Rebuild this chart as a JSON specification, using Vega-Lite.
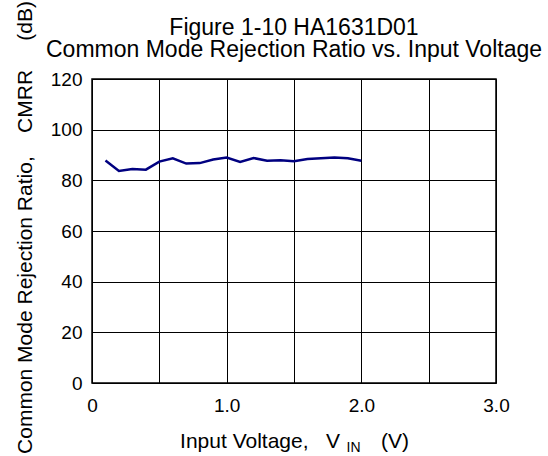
{
  "$schema": "https://vega.github.io/schema/vega-lite/v6.json",
  "width": 404,
  "height": 304,
  "autosize": {"type": "none"},
  "padding": {"left": 92, "top": 79, "right": 52, "bottom": 73},
  "background": "white",
  "config": {
    "font": "Liberation Sans",
    "view": {"stroke": "black", "strokeWidth": 1.5}
  },
  "title": {
    "text": ["Figure 1-10 HA1631D01", "Common Mode Rejection Ratio vs. Input Voltage"],
    "fontSize": 23,
    "fontWeight": "normal",
    "color": "black",
    "lineHeight": 21.3,
    "anchor": "middle",
    "frame": "group",
    "offset": 0,
    "dy": 61
  },
  "data": {
    "values": [
      {"v": 0.1, "cmrr": 87.8},
      {"v": 0.2, "cmrr": 83.7},
      {"v": 0.3, "cmrr": 84.5},
      {"v": 0.4, "cmrr": 84.2},
      {"v": 0.5, "cmrr": 87.4},
      {"v": 0.6, "cmrr": 88.7},
      {"v": 0.7, "cmrr": 86.6},
      {"v": 0.8, "cmrr": 86.8},
      {"v": 0.9, "cmrr": 88.2},
      {"v": 1.0, "cmrr": 89.0},
      {"v": 1.1, "cmrr": 87.3},
      {"v": 1.2, "cmrr": 88.8},
      {"v": 1.3, "cmrr": 87.7},
      {"v": 1.4, "cmrr": 87.9},
      {"v": 1.5, "cmrr": 87.5},
      {"v": 1.6, "cmrr": 88.4},
      {"v": 1.7, "cmrr": 88.7},
      {"v": 1.8, "cmrr": 89.0},
      {"v": 1.9, "cmrr": 88.7},
      {"v": 2.0, "cmrr": 87.7}
    ]
  },
  "layer": [
    {
      "mark": {"type": "line", "color": "#000080", "strokeWidth": 2.5},
      "encoding": {
        "x": {
          "field": "v",
          "type": "quantitative",
          "scale": {"domain": [0, 3], "nice": false},
          "axis": {
            "orient": "bottom",
            "values": [0, 0.5, 1, 1.5, 2, 2.5, 3],
            "labelExpr": "datum.value == 0 ? '0' : (datum.value % 1 == 0 ? format(datum.value, '.1f') : '')",
            "labelFontSize": 19,
            "labelColor": "black",
            "labelPadding": 13,
            "labelFlush": false,
            "ticks": false,
            "tickSize": 0,
            "domain": false,
            "grid": true,
            "gridColor": "black",
            "gridOpacity": 1,
            "gridWidth": 1,
            "title": "Input Voltage,\u00a0\u00a0\u00a0V\u00a0\u00a0\u00a0\u00a0\u00a0\u00a0\u00a0(V)",
            "titleFontSize": 21,
            "titleFontWeight": "normal",
            "titleColor": "black",
            "titleBaseline": "alphabetic",
            "titleY": 64
          }
        },
        "y": {
          "field": "cmrr",
          "type": "quantitative",
          "scale": {"domain": [0, 120], "nice": false},
          "axis": {
            "values": [0, 20, 40, 60, 80, 100, 120],
            "labelFontSize": 19,
            "labelColor": "black",
            "labelPadding": 10,
            "labelDy": 1,
            "ticks": false,
            "tickSize": 0,
            "domain": false,
            "grid": true,
            "gridColor": "black",
            "gridOpacity": 1,
            "gridWidth": 1,
            "title": "Common Mode Rejection Ratio,\u00a0\u00a0\u00a0\u00a0CMRR\u00a0\u00a0\u00a0\u00a0\u00a0(dB)",
            "titleFontSize": 21,
            "titleFontWeight": "normal",
            "titleColor": "black",
            "titleBaseline": "alphabetic",
            "titleAngle": 270,
            "titleX": -61,
            "titleY": 148
          }
        }
      }
    },
    {
      "mark": {"type": "line", "opacity": 0},
      "encoding": {
        "x": {
          "field": "v",
          "type": "quantitative",
          "axis": {
            "orient": "bottom",
            "labels": false,
            "ticks": false,
            "domain": false,
            "grid": false,
            "title": "IN",
            "titleFontSize": 14,
            "titleFontWeight": "normal",
            "titleColor": "black",
            "titleBaseline": "alphabetic",
            "titleX": 261,
            "titleY": 68
          }
        },
        "y": {"field": "cmrr", "type": "quantitative"}
      }
    }
  ],
  "resolve": {"axis": {"x": "independent"}}
}
